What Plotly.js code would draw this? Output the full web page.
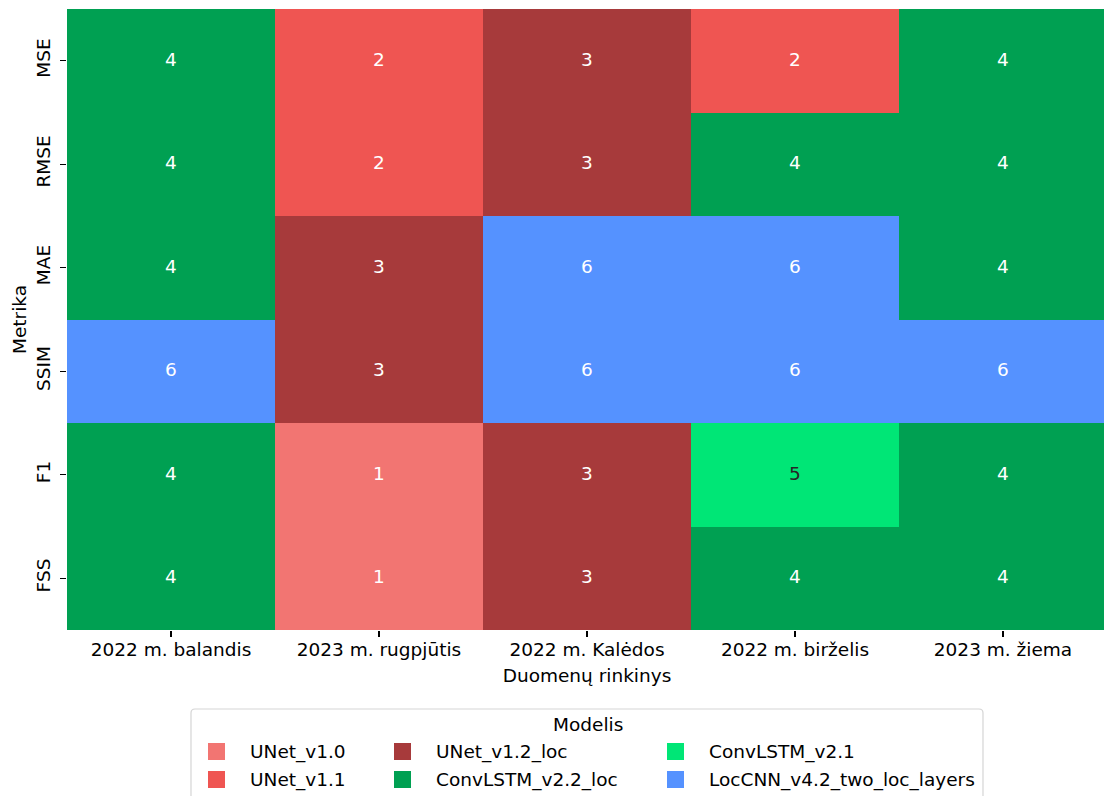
<!DOCTYPE html>
<html>
<head>
<meta charset="utf-8">
<script src="https://cdn.plot.ly/plotly-3.0.1.min.js"></script>
<style>
  html, body { margin: 0; padding: 0; overflow: hidden; background: #ffffff; }
</style>
</head>
<body>
<div id="chart"></div>
<script>
// Datasets (columns) and metrics (rows)
const datasets = ['2022 m. balandis', '2023 m. rugpjūtis', '2022 m. Kalėdos', '2022 m. birželis', '2023 m. žiema'];
const metrics = ['MSE', 'RMSE', 'MAE', 'SSIM', 'F1', 'FSS'];

// Models, numbered 1..6 in this order
const models = ['UNet_v1.0', 'UNet_v1.1', 'UNet_v1.2_loc', 'ConvLSTM_v2.2_loc', 'ConvLSTM_v2.1', 'LocCNN_v4.2_two_loc_layers'];
const modelColors = ['#f27572', '#ef5552', '#a73a3b', '#00a052', '#00e676', '#5592ff'];

// Best model number for every metric (row) and dataset (column)
const mseBest  = [4, 2, 3, 2, 4];
const rmseBest = [4, 2, 3, 4, 4];
const maeBest  = [4, 3, 6, 6, 4];
const ssimBest = [6, 3, 6, 6, 6];
const f1Best   = [4, 1, 3, 5, 4];
const fssBest  = [4, 1, 3, 4, 4];
const bestModel = [mseBest, rmseBest, maeBest, ssimBest, f1Best, fssBest];

const FONT = 'DejaVu Sans, Liberation Sans, sans-serif';
const FS = 18.5;

// Figure geometry (px)
const FIG_W = 1107, FIG_H = 796;
const M = { l: 67, r: 0, t: 9, b: 166 };
const PW = FIG_W - M.l - M.r, PH = FIG_H - M.t - M.b;
const px = x => (x - M.l) / PW;
const py = y => (FIG_H - M.b - y) / PH;

// Discrete colorscale: value k (1..6) -> modelColors[k-1]
const n = models.length;
const colorscale = [];
modelColors.forEach((c, i) => {
  colorscale.push([i / n, c]);
  colorscale.push([(i + 1) / n, c]);
});

const heat = {
  type: 'heatmap',
  x: datasets,
  y: metrics,
  z: bestModel,
  zmin: 0.5,
  zmax: n + 0.5,
  colorscale: colorscale,
  showscale: false,
  xgap: 0, ygap: 0,
  hovertemplate: '%{y} / %{x}: %{z}<extra></extra>'
};

// Cell labels
const annotations = [];
bestModel.forEach((row, i) => {
  row.forEach((v, j) => {
    annotations.push({
      x: datasets[j], y: metrics[i], xref: 'x', yref: 'y',
      text: String(v), showarrow: false, yshift: 1.5,
      font: { family: FONT, size: FS, color: v === 5 ? '#262626' : '#ffffff' }
    });
  });
});

// Legend box drawn below the plot
const shapes = [];
const box = { x0: 191, x1: 983, y0: 709, y1: 812, r: 4 };
const bx0 = px(box.x0), bx1 = px(box.x1), by0 = py(box.y0), by1 = py(box.y1);
const rx = box.r / PW, ry = box.r / PH;
shapes.push({
  type: 'path', xref: 'paper', yref: 'paper',
  path: `M ${bx0 + rx} ${by0} L ${bx1 - rx} ${by0} Q ${bx1} ${by0} ${bx1} ${by0 - ry} ` +
        `L ${bx1} ${by1 + ry} Q ${bx1} ${by1} ${bx1 - rx} ${by1} L ${bx0 + rx} ${by1} ` +
        `Q ${bx0} ${by1} ${bx0} ${by1 + ry} L ${bx0} ${by0 - ry} Q ${bx0} ${by0} ${bx0 + rx} ${by0} Z`,
  line: { color: '#d5d5d5', width: 1.2 },
  fillcolor: 'rgba(255,255,255,0.8)',
  layer: 'above'
});

annotations.push({
  x: px(588), y: py(724), xref: 'paper', yref: 'paper',
  text: 'Modelis', showarrow: false, xanchor: 'center', yanchor: 'middle',
  font: { family: FONT, size: FS, color: '#000000' }
});

const colX = [216.5, 402.5, 675.5];
const rowY = [751.5, 779.5];
const SQ = 17;
models.forEach((m, k) => {
  const cx = colX[Math.floor(k / 2)], cy = rowY[k % 2];
  shapes.push({
    type: 'rect', xref: 'paper', yref: 'paper',
    x0: px(cx - SQ / 2), x1: px(cx + SQ / 2),
    y0: py(cy + SQ / 2), y1: py(cy - SQ / 2),
    fillcolor: modelColors[k], line: { width: 0 }, layer: 'above'
  });
  annotations.push({
    x: px(cx + SQ / 2 + 23), y: py(cy), xref: 'paper', yref: 'paper',
    text: m, showarrow: false, xanchor: 'left', yanchor: 'middle',
    font: { family: FONT, size: FS, color: '#000000' }
  });
});

const axisCommon = {
  type: 'category',
  showgrid: false, zeroline: false, showline: false,
  ticks: 'outside', ticklen: 6, tickwidth: 1.2, tickcolor: '#000000',
  tickfont: { family: FONT, size: FS, color: '#000000' },
  automargin: false
};

const layout = {
  width: FIG_W, height: FIG_H,
  margin: M,
  paper_bgcolor: '#ffffff', plot_bgcolor: '#ffffff',
  font: { family: FONT, size: FS, color: '#000000' },
  xaxis: Object.assign({}, axisCommon, {
    title: { text: 'Duomenų rinkinys', font: { family: FONT, size: FS, color: '#000000' }, standoff: 9 },
    ticklabelstandoff: -3
  }),
  yaxis: Object.assign({}, axisCommon, {
    autorange: 'reversed',
    tickangle: -90,
    title: { text: 'Metrika', font: { family: FONT, size: FS, color: '#000000' }, standoff: 1 },
    ticklabelstandoff: 3
  }),
  annotations: annotations,
  shapes: shapes,
  showlegend: false
};

Plotly.newPlot('chart', [heat], layout, { displayModeBar: false, staticPlot: true });
</script>
</body>
</html>
